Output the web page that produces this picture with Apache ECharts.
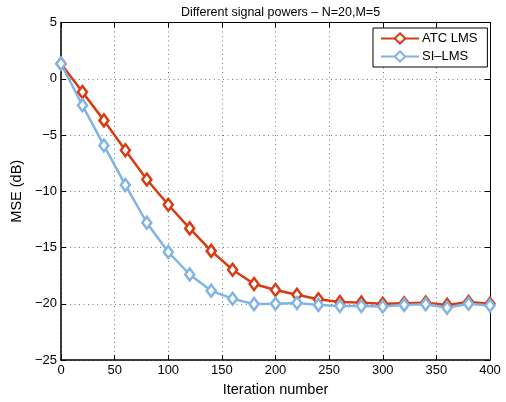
<!DOCTYPE html>
<html>
<head>
<meta charset="utf-8">
<script src="https://cdn.jsdelivr.net/npm/echarts@6/dist/echarts.min.js"></script>
<style>html,body{margin:0;padding:0;background:#fff;}#c{width:506px;height:402px;}</style>
</head>
<body>
<div id="c"></div>
<script>
const iterations = [0,20,40,60,80,100,120,140,160,180,200,220,240,260,280,300,320,340,360,380,400];
const atcLms = [1.33,-1.18,-3.7,-6.35,-8.95,-11.2,-13.3,-15.3,-16.98,-18.25,-18.78,-19.2,-19.6,-19.85,-19.9,-20.0,-19.95,-19.9,-20.1,-19.85,-20.0];
const siLms  = [1.33,-2.36,-5.93,-9.44,-12.8,-15.4,-17.4,-18.85,-19.55,-20.03,-20.0,-19.94,-20.1,-20.2,-20.2,-20.25,-20.1,-20.05,-20.35,-20.0,-20.15];
const seriesNames = ['ATC LMS', 'SI\u2013LMS'];
const titleText = 'Different signal powers \u2013 N=20,M=5';
const xLabel = 'Iteration number';
const yLabel = 'MSE (dB)';

const FONT = 'Liberation Sans, Arial, Helvetica, sans-serif';
const RED = '#d93a12';
const BLUE = '#80b3e6';
const chart = echarts.init(document.getElementById('c'), null, {renderer: 'canvas'});
const fmt = v => String(v).replace('-', '\u2212');
const grid = {left: 61, right: 16, top: 22.5, bottom: 41};
const gridLine = {show: true, lineStyle: {color: '#777', width: 1, type: [1, 3.5]}};
function mk(name, vals, color) {
  return {
    name: name, type: 'line',
    data: iterations.map((x, i) => [x, vals[i]]),
    symbol: 'diamond', symbolSize: [9, 12],
    lineStyle: {color: color, width: 2.5},
    itemStyle: {color: '#fff', borderColor: color, borderWidth: 2.5},
    color: color,
    animation: false, z: 3
  };
}
chart.setOption({
  animation: false,
  title: {text: titleText, left: 275.5, top: 1, textAlign: 'center',
    textStyle: {fontFamily: FONT, fontSize: 12.5, fontWeight: 'normal', color: '#000'}},
  legend: {
    orient: 'vertical', left: 373, top: 28,
    data: seriesNames,
    backgroundColor: '#fff', borderColor: '#000', borderWidth: 1, borderRadius: 0,
    padding: [4, 10, 4, 7], itemGap: 5, itemWidth: 38, itemHeight: 13,
    textStyle: {fontFamily: FONT, fontSize: 13, color: '#000', padding: [0, 0, 0, -2]}
  },
  grid: grid,
  xAxis: [{
    type: 'value', min: 0, max: 400, interval: 50,
    name: xLabel, nameLocation: 'middle', nameGap: 22,
    nameTextStyle: {fontFamily: FONT, fontSize: 14.5, color: '#000'},
    axisLine: {onZero: false, lineStyle: {color: '#000', width: 1.5}},
    axisTick: {inside: true, length: 5, lineStyle: {color: '#000'}},
    axisLabel: {fontFamily: FONT, fontSize: 13, color: '#000', margin: 4, formatter: fmt},
    splitLine: gridLine
  }, {
    type: 'value', min: 0, max: 400, interval: 50, position: 'top',
    axisLine: {onZero: false, lineStyle: {color: '#000', width: 1}},
    axisTick: {inside: true, length: 5, lineStyle: {color: '#000'}},
    axisLabel: {show: false}, splitLine: {show: false}
  }],
  yAxis: [{
    type: 'value', min: -25, max: 5, interval: 5,
    name: yLabel, nameLocation: 'middle', nameGap: 31,
    nameTextStyle: {fontFamily: FONT, fontSize: 14.5, color: '#000'},
    axisLine: {onZero: false, lineStyle: {color: '#000', width: 1.5}},
    axisTick: {inside: true, length: 5, lineStyle: {color: '#000'}},
    axisLabel: {fontFamily: FONT, fontSize: 13, color: '#000', margin: 4, formatter: fmt},
    splitLine: gridLine
  }, {
    type: 'value', min: -25, max: 5, interval: 5, position: 'right',
    axisLine: {onZero: false, lineStyle: {color: '#000', width: 1}},
    axisTick: {inside: true, length: 5, lineStyle: {color: '#000'}},
    axisLabel: {show: false}, splitLine: {show: false}
  }],
  series: [mk(seriesNames[0], atcLms, RED), mk(seriesNames[1], siLms, BLUE)]
});
</script>
</body>
</html>
